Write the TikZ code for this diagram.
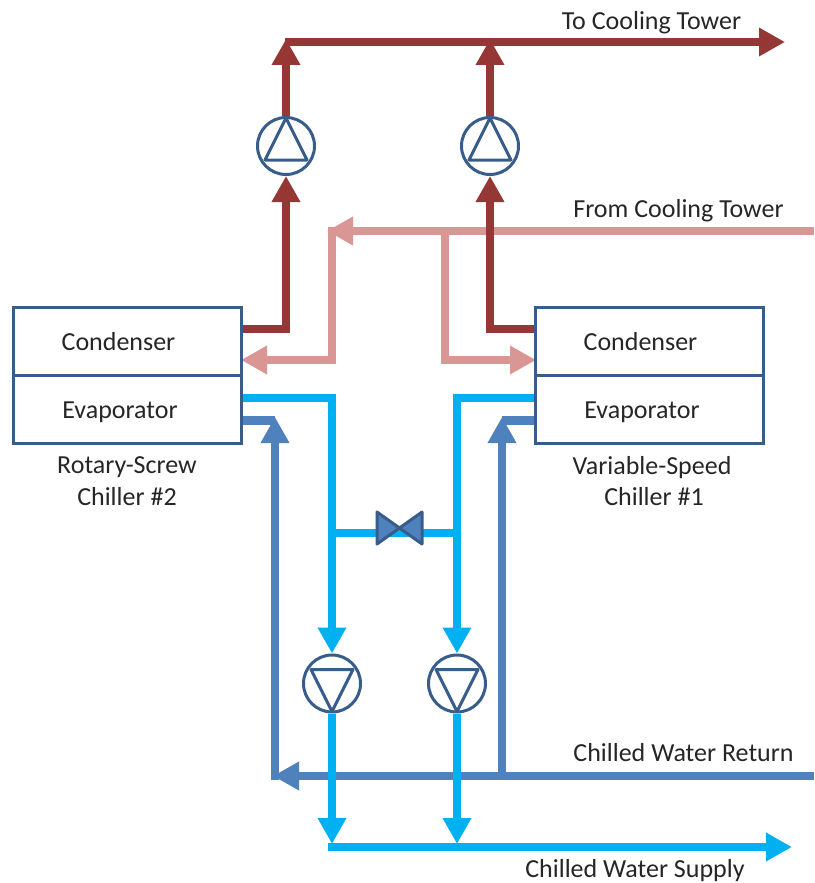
\documentclass[tikz,border=0pt]{standalone}
\usepackage{fontspec}
\setmainfont{Carlito}
\usetikzlibrary{arrows.meta}
\definecolor{hot}{HTML}{953735}
\definecolor{warm}{HTML}{D99694}
\definecolor{chill}{HTML}{00B0F0}
\definecolor{ret}{HTML}{4F81BD}
\definecolor{frame}{HTML}{385D8A}
\definecolor{txt}{HTML}{262626}
\tikzset{
  x=1pt,y=-1pt,
  pipe/.style={line width=8.5pt,line cap=butt,line join=miter},
  tip/.style={-{Triangle[length=26pt,width=27pt]}},
  unit/.style={draw=frame,line width=3pt,minimum width=228pt,minimum height=68pt,inner sep=0pt},
  pump/.style={circle,draw=frame,line width=3pt,fill=white,minimum size=57pt,inner sep=0pt},
  pumptri/.style={draw=frame,line width=3pt,line join=round},
  valveshape/.style={draw=frame,fill=ret,line width=3pt,line join=round},
  lbl/.style={text=txt,font=\fontsize{26}{26}\selectfont,inner sep=0pt},
}
\begin{document}
\begin{tikzpicture}
\useasboundingbox (0,0) rectangle (814,883);
\fill[white] (0,0) rectangle (814,883);
% equipment nodes
\node[unit] (c2) at (127,341) {};
\node[unit] (e2) at (127,409) {};
\node[unit] (c1) at (649.5,341) {};
\node[unit] (e1) at (649.5,409) {};
\node[pump] (pu2) at (286,146) {};
\node[pump] (pu1) at (490,146) {};
\node[pump] (pd2) at (332,683.5) {};
\node[pump] (pd1) at (457,683.5) {};
\node[inner sep=0pt,minimum size=0pt] (valve) at (399.5,528) {};
% junctions
\coordinate (hotL) at (286,39);
\coordinate (hotR) at (490,39);
\coordinate (hotStart) at (285,42);
\coordinate (hotEnd) at (785,42);
\coordinate (hot2a) at (241,329);
\coordinate (hot2b) at (286,329);
\coordinate (hot1a) at (536,329);
\coordinate (hot1b) at (490,329);
\coordinate (warmIn) at (814,231);
\coordinate (warmTip) at (327,231);
\coordinate (warmL) at (332,227);
\coordinate (warmL2) at (332,360);
\coordinate (warm2) at (241,360);
\coordinate (warmR) at (445,231);
\coordinate (warmR2) at (445,360);
\coordinate (warm1) at (536,360);
\coordinate (ch2a) at (241,398);
\coordinate (ch2b) at (332,398);
\coordinate (ch1a) at (536,398);
\coordinate (ch1b) at (457,398);
\coordinate (barL) at (332,533);
\coordinate (barR) at (457,533);
\coordinate (supL) at (332,844);
\coordinate (supR) at (457,844);
\coordinate (supStart) at (328,847);
\coordinate (supEnd) at (792,847);
\coordinate (retIn) at (814,776);
\coordinate (retTip) at (273,776);
\coordinate (retL) at (275,780);
\coordinate (retLtop) at (275,417);
\coordinate (ret2a) at (241,420.5);
\coordinate (ret2b) at (275,420.5);
\coordinate (retR) at (502,776);
\coordinate (retRtop) at (502,417);
\coordinate (ret1a) at (536,420.5);
\coordinate (ret1b) at (502,420.5);
% warm water
\draw[pipe,warm,tip] (warmIn) -- (warmTip);
\draw[pipe,warm,tip] (warmL) -- (warmL2) -- (warm2);
\draw[pipe,warm,tip] (warmR) -- (warmR2) -- (warm1);
% hot water
\draw[pipe,hot,tip] (hot2a) -- (hot2b) -- (pu2.south);
\draw[pipe,hot,tip] (hot1a) -- (hot1b) -- (pu1.south);
\draw[pipe,hot,tip] (pu2.north) -- (hotL);
\draw[pipe,hot,tip] (pu1.north) -- (hotR);
\draw[pipe,hot,tip] (hotStart) -- (hotEnd);
% return
\draw[pipe,ret,tip] (retIn) -- (retTip);
\draw[pipe,ret,tip] (retL) -- (retLtop);
\draw[pipe,ret,tip] (retR) -- (retRtop);
\draw[pipe,ret] (ret2a) -- (ret2b);
\draw[pipe,ret] (ret1a) -- (ret1b);
% chilled
\draw[pipe,chill,tip] (ch2a) -- (ch2b) -- (pd2.north);
\draw[pipe,chill,tip] (ch1a) -- (ch1b) -- (pd1.north);
\draw[pipe,chill] (barL) -- (barR);
\draw[pipe,chill,tip] (pd2.south) -- (supL);
\draw[pipe,chill,tip] (pd1.south) -- (supR);
\draw[pipe,chill,tip] (supStart) -- (supEnd);
% redraw frames and pumps on top
\node[unit] at (c2) {};
\node[unit] at (e2) {};
\node[unit] at (c1) {};
\node[unit] at (e1) {};
\draw[pumptri,shift={(pu2.center)}] (0,-28) -- (21,14) -- (-21,14) -- cycle;
\draw[pumptri,shift={(pu1.center)}] (0,-28) -- (21,14) -- (-21,14) -- cycle;
\draw[pumptri,shift={(pd2.center)}] (0,28) -- (21,-14) -- (-21,-14) -- cycle;
\draw[pumptri,shift={(pd1.center)}] (0,28) -- (21,-14) -- (-21,-14) -- cycle;
\draw[valveshape,shift={(valve.center)}] (-22.5,-16) -- (22.5,16) -- (22.5,-16) -- (-22.5,16) -- cycle;
% labels
\node[lbl] (t1) at (651.5,23) {To Cooling Tower};
\node[lbl] (t2) at (678.5,211) {From Cooling Tower};
\node[lbl,anchor=base] (t3) at (683.5,761.5) {Chilled Water Return};
\node[lbl,anchor=base] (t4) at (635,877) {Chilled Water Supply};
\node[lbl] (t5) at (118.5,342) {Condenser};
\node[lbl] (t6) at (120,412.5) {Evaporator};
\node[lbl] (t7) at (640.5,342) {Condenser};
\node[lbl] (t8) at (642,412.5) {Evaporator};
\node[lbl] (t9) at (127,467) {Rotary-Screw};
\node[lbl] (t10) at (127,497) {Chiller \#2};
\node[lbl] (t11) at (652,468) {Variable-Speed};
\node[lbl] (t12) at (654,497) {Chiller \#1};
\end{tikzpicture}
\end{document}
